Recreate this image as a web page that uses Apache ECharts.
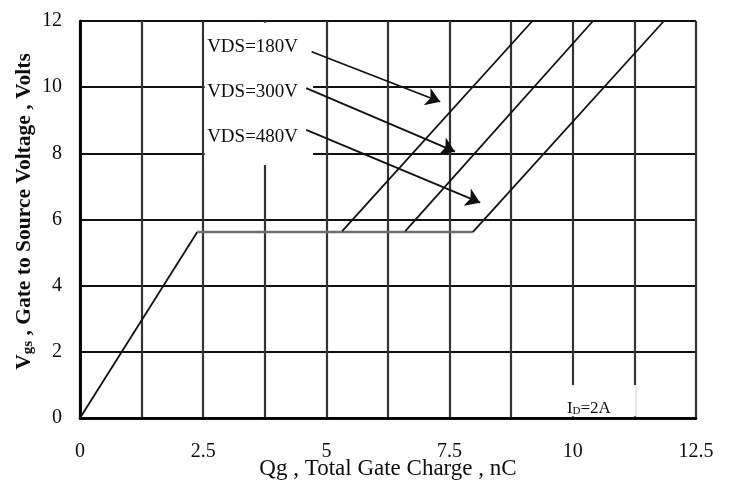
<!DOCTYPE html>
<html><head><meta charset="utf-8">
<script src="https://cdn.jsdelivr.net/npm/echarts@6/dist/echarts.min.js"></script>
<style>html,body{margin:0;padding:0;background:#fff}#c{width:737px;height:488px}</style>
</head><body><div id="c"></div>
<script>
// ---- data ----
const xTickLabels = [0, 2.5, 5, 7.5, 10, 12.5];
const yTickLabels = [0, 2, 4, 6, 8, 10, 12];
const rampPoints = [[0, 0], [2.38, 5.62]];
const plateauPoints = [[2.38, 5.62], [7.97, 5.62]];
const vds180Points = [[5.32, 5.65], [9.18, 12]];
const vds300Points = [[6.6, 5.65], [10.41, 12]];
const vds480Points = [[7.97, 5.62], [11.85, 12]];
const vdsNames = ['VDS=180V', 'VDS=300V', 'VDS=480V'];
const vdsLabelAnchors = [[2.58, 11.2], [2.58, 9.85], [2.58, 8.49]];
const arrowStarts = [[4.70, 11.07], [4.59, 9.97], [4.59, 8.71]];
const arrowTips = [[7.31, 9.56], [7.61, 8.05], [8.12, 6.51]];
const idLabel = 'ID=2A';
const idLabelAnchor = [9.88, 0.3];
const legendBoxVds = [[2.53, 7.65], [4.73, 11.95]];
const legendBoxId = [[9.84, 0.05], [11.28, 1.0]];

const serif = 'Liberation Serif';
const txt = '#0d0d0d';
const chart = echarts.init(document.getElementById('c'), null, {renderer: 'canvas'});
const lineStyleCurve = {color: '#111', width: 1.8};

chart.setOption({
  animation: false,
  backgroundColor: '#fff',
  grid: {left: 80, right: 41, top: 21, bottom: 70, containLabel: false, outerBoundsMode: 'none'},
  xAxis: [{
    type: 'value', min: 0, max: 12.5, interval: 1.25,
    name: 'Qg , Total Gate Charge , nC', nameLocation: 'middle', nameGap: 39, nameMoveOverlap: false,
    nameTextStyle: {fontFamily: serif, fontSize: 23, color: txt},
    axisLine: {show: true, onZero: false, lineStyle: {color: '#000', width: 2.5}},
    axisTick: {show: false},
    axisLabel: {margin: 24, fontFamily: serif, fontSize: 20, color: txt,
      formatter: v => xTickLabels.some(t => Math.abs(t - v) < 1e-6) ? String(v) : ''},
    splitLine: {show: true, lineStyle: {color: '#333', width: 2.2}}
  }, {
    type: 'value', position: 'top', min: 0, max: 12.5,
    axisLine: {show: true, lineStyle: {color: '#000', width: 2.5}},
    axisTick: {show: false}, axisLabel: {show: false}, splitLine: {show: false}
  }],
  yAxis: [{
    type: 'value', min: 0, max: 12, interval: 2,
    name: '{a|V}{b|gs}{a| , Gate to Source Voltage , Volts}', nameLocation: 'middle', nameGap: 44,
    nameMoveOverlap: false,
    nameTextStyle: {padding: [0, 0, 0, 16], rich: {
      a: {fontFamily: serif, fontSize: 21.5, fontWeight: 'bold', color: txt},
      b: {fontFamily: serif, fontSize: 15, fontWeight: 'bold', color: txt, padding: [8, 0, 0, 0]}
    }},
    axisLine: {show: true, onZero: false, lineStyle: {color: '#000', width: 2.5}},
    axisTick: {show: false},
    axisLabel: {margin: 18, fontFamily: serif, fontSize: 20, color: txt,
      formatter: v => yTickLabels.includes(v) ? String(v) : ''},
    splitLine: {show: true, lineStyle: {color: '#111', width: 2}}
  }, {
    type: 'value', position: 'right', min: 0, max: 12,
    axisLine: {show: true, lineStyle: {color: '#000', width: 2.5}},
    axisTick: {show: false}, axisLabel: {show: false}, splitLine: {show: false}
  }],
  series: [
    {type: 'line', data: rampPoints, symbol: 'none', lineStyle: lineStyleCurve, z: 3,
      markArea: {silent: true, itemStyle: {color: '#fff', opacity: 1},
        data: [[{coord: legendBoxVds[0]}, {coord: legendBoxVds[1]}],
               [{coord: legendBoxId[0]}, {coord: legendBoxId[1]}]]}},
    {type: 'line', data: plateauPoints, symbol: 'none', lineStyle: {color: '#6f6f6f', width: 2.5}, z: 3},
    {type: 'line', data: vds180Points, symbol: 'none', lineStyle: lineStyleCurve, z: 3},
    {type: 'line', data: vds300Points, symbol: 'none', lineStyle: lineStyleCurve, z: 3},
    {type: 'line', data: vds480Points, symbol: 'none', lineStyle: lineStyleCurve, z: 3},
    {type: 'lines', coordinateSystem: 'cartesian2d', z: 4,
      symbol: ['none', 'arrow'], symbolSize: 14,
      lineStyle: {color: '#111', width: 1.8, opacity: 1},
      data: arrowStarts.map((s, i) => ({coords: [s, arrowTips[i]]}))},
    {type: 'scatter', symbolSize: 0, z: 5, itemStyle: {opacity: 1},
      data: vdsLabelAnchors.map((p, i) => ({value: p, name: vdsNames[i]})),
      label: {show: true, position: 'right', distance: 0, formatter: p => p.name, opacity: 1,
        fontFamily: serif, fontSize: 19, color: txt}},
    {type: 'scatter', symbolSize: 0, z: 5, itemStyle: {opacity: 1},
      data: [{value: idLabelAnchor, name: idLabel}],
      label: {show: true, position: 'right', distance: 0, opacity: 1,
        formatter: () => '{a|I}{s|D}{a|=2A}',
        rich: {a: {fontFamily: serif, fontSize: 17, color: txt},
               s: {fontFamily: serif, fontSize: 11, color: txt, padding: [7, 0, 0, 0]}}}}
  ]
});
</script></body></html>
